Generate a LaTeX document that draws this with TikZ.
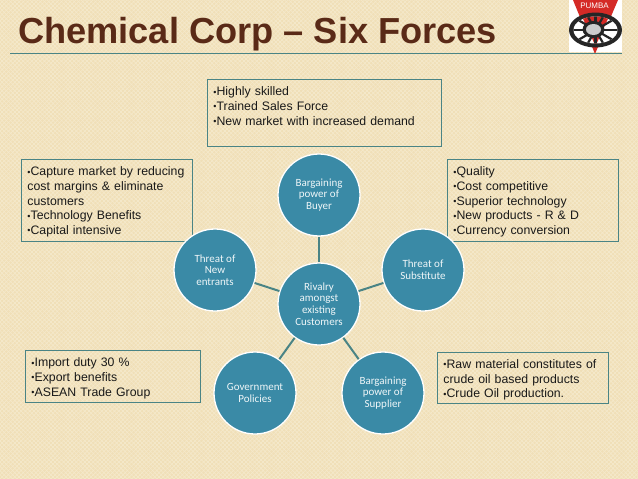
\documentclass[tikz,border=0pt]{standalone}
\usepackage{fontspec}
\setmainfont{Liberation Sans}
\newfontfamily\roundfont{Carlito}
\usepackage{xcolor}
\usetikzlibrary{positioning, patterns.meta}
\definecolor{paper}{HTML}{F0DFB7}
\definecolor{weave}{HTML}{F5E9CB}
\definecolor{cocoa}{HTML}{5A2A17}
\definecolor{forceblue}{HTML}{3A8AA6}
\definecolor{edgeteal}{HTML}{4A8485}
\definecolor{logored}{HTML}{D42A26}
\newcommand{\nb}{{\fontsize{9}{9}\selectfont\raisebox{0.6pt}{•}}}
\tikzset{
  force/.style={circle, fill=forceblue, draw=white, line width=1.3pt, minimum size=82pt, inner sep=0pt,
    align=center, text=white!92!forceblue, font=\roundfont\fontsize{11}{11.6}\selectfont},
  notebox/.style={draw=edgeteal, line width=0.9pt, anchor=north west, align=left,
    inner xsep=6pt, inner ysep=6pt, font=\fontsize{12.3}{14.6}\selectfont, text=black!90},
  link/.style={edgeteal, line width=2pt}
}
\begin{document}
\begin{tikzpicture}[x=1pt, y=-1pt]
  \useasboundingbox (0,0) rectangle (638,479);
  \fill[paper] (0,0) rectangle (638,479);
  \fill[pattern={Lines[angle=45, distance=3pt, line width=0.7pt]}, pattern color=weave] (0,0) rectangle (638,479);
  \fill[pattern={Lines[angle=-45, distance=3pt, line width=0.7pt]}, pattern color=weave] (0,0) rectangle (638,479);
  % title and rule
  \node[anchor=base west, inner sep=0pt, text=cocoa, font=\bfseries\fontsize{36.2}{38}\selectfont] (title) at (18,43.5) {Chemical Corp -- Six Forces};
  % logo
  \fill[white] (569,0) rectangle (622,52);
  \fill[logored] (573,0) -- (618,0) -- (595,54) -- cycle;
  \node[text=white, inner sep=0pt, font=\fontsize{8}{8}\selectfont] (pumba) at (594.5,5.5) {PUMBA};
  \fill[black!85] (595.5,30) ellipse (26.5 and 17.5);
  \fill[white] (595.5,30) ellipse (22 and 13.5);
  \begin{scope}
    \clip (595.5,30) ellipse (22 and 13.5);
    \fill[logored] (579,10) -- (612,10) -- (595.5,46) -- cycle;
    \foreach \ang in {0,30,...,330}
      \draw[black!85, line width=2.2pt] (595.5,30) -- ++(\ang:30);
  \end{scope}
  \fill[black!85] (593.5,29.5) ellipse (11 and 8.5);
  \fill[white!80!black] (593.5,29.5) ellipse (7.5 and 5.5);
  \draw[edgeteal, line width=0.9pt] (10,53) -- (622,53);
  % text boxes
  \node[notebox, text width=222pt, minimum height=67pt, text depth=43pt] (buyernote) at (207,79) {\nb Highly skilled\\\nb Trained Sales Force\\\nb New market with increased demand};
  \node[notebox, text width=159pt, minimum height=82pt, text depth=58pt] (entrantnote) at (21,159) {\nb Capture market by reducing\\cost margins \& eliminate\\customers\\\nb Technology Benefits\\\nb Capital intensive};
  \node[notebox, text width=159pt, minimum height=82pt, text depth=58pt] (substitutenote) at (447,159) {\nb Quality\\\nb Cost competitive\\\nb Superior technology\\\nb New products - R \& D\\\nb Currency conversion};
  \node[notebox, text width=163pt, minimum height=52pt, text depth=28pt] (policynote) at (25,350) {\nb Import duty 30 \%\\\nb Export benefits\\\nb ASEAN Trade Group};
  \node[notebox, text width=159pt, minimum height=51pt, text depth=28pt] (suppliernote) at (437,352) {\nb Raw material constitutes of\\crude oil based products\\\nb Crude Oil production.};
  % the six forces
  \node[force] (rivalry) at (319,304) {Rivalry\\amongst\\existing\\Customers};
  \node[force] (buyer) at (319,195) {Bargaining\\power of\\Buyer};
  \node[force] (entrants) at (215,270) {Threat of\\New\\entrants};
  \node[force] (substitute) at (423,270) {Threat of\\Substitute};
  \node[force] (policies) at (255,393) {Government\\Policies};
  \node[force] (supplier) at (383,393) {Bargaining\\power of\\Supplier};
  % spokes
  \draw[link] (rivalry) -- (buyer);
  \draw[link] (rivalry) -- (entrants);
  \draw[link] (rivalry) -- (substitute);
  \draw[link] (rivalry) -- (policies);
  \draw[link] (rivalry) -- (supplier);
\end{tikzpicture}
\end{document}
